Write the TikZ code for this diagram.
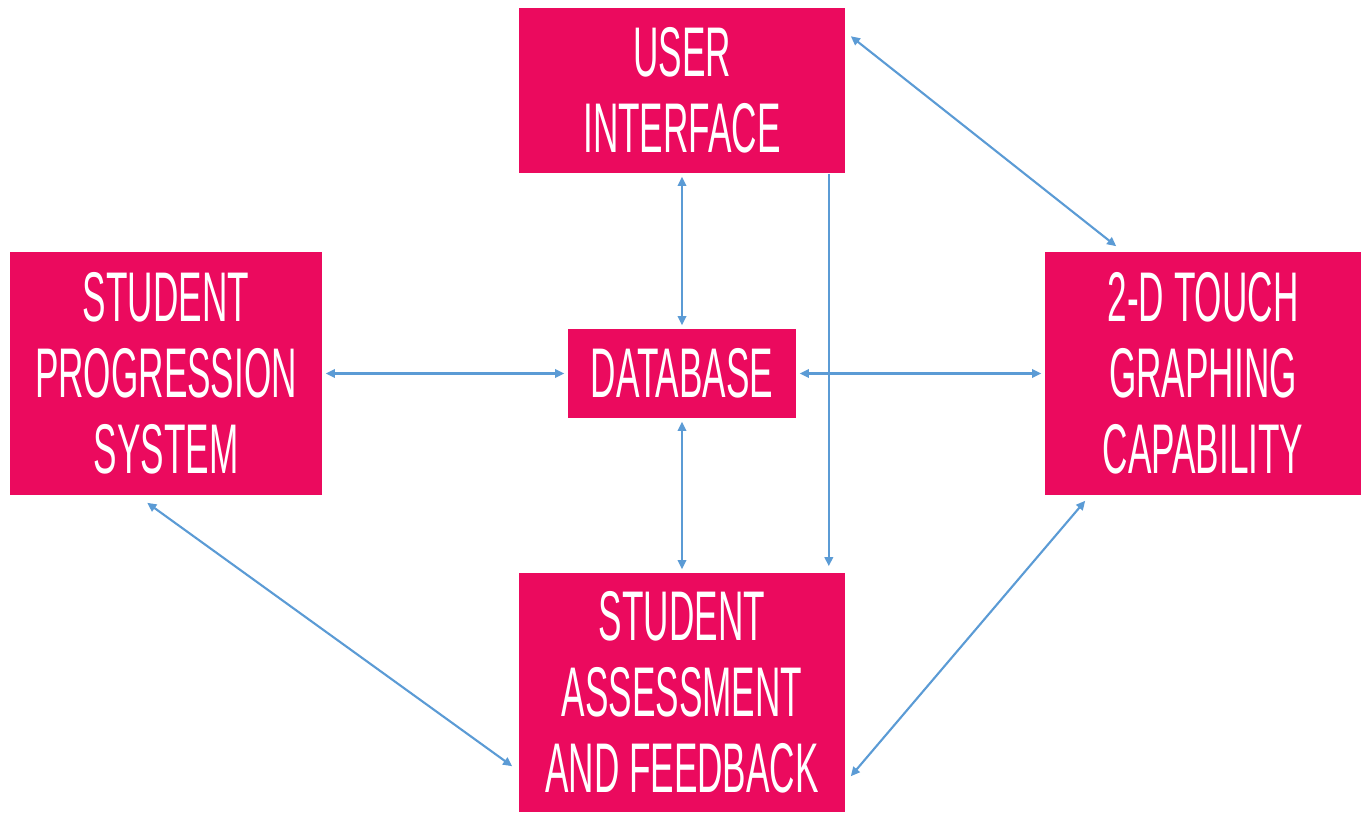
\documentclass[tikz,border=0pt]{standalone}
\usepackage{fontspec}
\newfontfamily\condfont[FakeStretch=0.5]{Liberation Sans}
\usetikzlibrary{arrows.meta}
\definecolor{boxpink}{RGB}{235,10,94}
\definecolor{linkblue}{RGB}{91,155,213}
\begin{document}
\begin{tikzpicture}[x=0.01cm,y=-0.01cm,
  blockbox/.style={rectangle, fill=boxpink, draw=none, text=white, align=center, inner sep=0pt,
    font=\condfont\fontsize{20}{21.6}\selectfont},
  arr/.style={draw=linkblue, line width=0.6pt, {Triangle[length=2.6pt,width=2.4pt]}-{Triangle[length=2.6pt,width=2.4pt]}},
  arrone/.style={draw=linkblue, line width=0.6pt, -{Triangle[length=2.6pt,width=2.4pt]}}]
\useasboundingbox (0,0) rectangle (1361,812);
\node[blockbox, minimum width=3.26cm, minimum height=1.65cm] (ui) at (682,90.5) {USER\\INTERFACE};
\node[blockbox, minimum width=3.12cm, minimum height=2.43cm] (sps) at (166,373.5) {STUDENT\\PROGRESSION\\SYSTEM};
\node[blockbox, minimum width=2.28cm, minimum height=0.89cm] (db) at (682,373.5) {DATABASE};
\node[blockbox, minimum width=3.16cm, minimum height=2.43cm] (tg) at (1203,373.5) {2-D TOUCH\\GRAPHING\\CAPABILITY};
\node[blockbox, minimum width=3.26cm, minimum height=2.39cm] (saf) at (682,692.5) {STUDENT\\ASSESSMENT\\AND FEEDBACK};

\draw[arr] ([shift={(5,29)}]ui.north east) -- ([shift={(72,-5)}]tg.north west);
\draw[arr] ([shift={(0,3)}]ui.south) -- ([shift={(0,-3)}]db.north);
\draw[arrone] ([shift={(-17,0)}]ui.south east) -- ([shift={(-17,-6)}]saf.north east);
\draw[arr] ([shift={(3,0)}]sps.east) -- ([shift={(-3,0)}]db.west);
\draw[arr] ([shift={(3,0)}]db.east) -- ([shift={(-3,0)}]tg.west);
\draw[arr] ([shift={(0,3)}]db.south) -- ([shift={(0,-3)}]saf.north);
\draw[arr] ([shift={(138,7)}]sps.south west) -- ([shift={(-6,194)}]saf.north west);
\draw[arr] ([shift={(41,5)}]tg.south west) -- ([shift={(5,204)}]saf.north east);
\end{tikzpicture}
\end{document}
